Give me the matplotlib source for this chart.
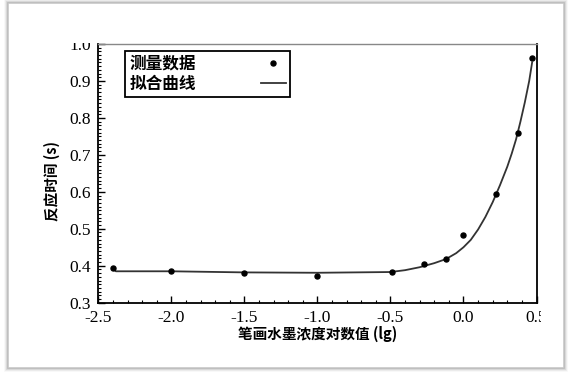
import numpy as np
import matplotlib
matplotlib.use("Agg")
import matplotlib.pyplot as plt
from matplotlib.patches import Rectangle
from matplotlib.ticker import MultipleLocator

# measured points (log value, reaction time in s)
x_meas = [-2.40, -2.00, -1.50, -1.00, -0.49, -0.27, -0.12, 0.00, 0.22, 0.37, 0.47]
y_meas = [0.393, 0.387, 0.380, 0.373, 0.382, 0.404, 0.419, 0.484, 0.595, 0.758, 0.961]

# fitted curve
x_fit = [-2.40, -2.38, -2.00, -1.50, -1.00, -0.50, -0.40, -0.30, -0.20, -0.12, -0.05,
         0.00, 0.05, 0.10, 0.15, 0.20, 0.25, 0.30, 0.33, 0.36, 0.39, 0.42, 0.45, 0.47]
y_fit = [0.393, 0.385, 0.385, 0.382, 0.381, 0.383, 0.388, 0.396, 0.407, 0.418, 0.434,
         0.450, 0.470, 0.498, 0.532, 0.572, 0.618, 0.668, 0.703, 0.742, 0.790, 0.842, 0.900, 0.950]

x_ticks = [-2.5, -2.0, -1.5, -1.0, -0.5, 0.0, 0.5]
y_ticks = [0.3, 0.4, 0.5, 0.6, 0.7, 0.8, 0.9, 1.0]

labels = ["测量数据", "拟合曲线"]
xlabel = "笔画水墨浓度对数值 (lg)"
ylabel = "反应时间 (s)"

W, H = 572, 376
cjk = ["Noto Sans CJK SC", "DejaVu Sans"]
serif = ["Liberation Serif", "DejaVu Serif"]

fig = plt.figure(figsize=(W / 100, H / 100), dpi=100)
ax = fig.add_axes([98.3 / W, 1 - 302.7 / H, (536.5 - 98.3) / W, (302.7 - 44) / H])

ax.plot(x_fit, y_fit, color="#333333", lw=1.3, label=labels[1], zorder=2)
ax.plot(x_meas, y_meas, "o", color="black", ms=3.6, label=labels[0], zorder=3)

ax.set_xlim(-2.5, 0.5)
ax.set_ylim(0.3, 1.0)
ax.set_xticks(x_ticks)
ax.set_yticks(y_ticks)
ax.xaxis.set_minor_locator(MultipleLocator(0.1))
ax.yaxis.set_minor_locator(MultipleLocator(0.01))
ax.tick_params(which="major", direction="in", length=5, width=1, labelsize=12.5, pad=5)
ax.tick_params(which="minor", direction="in", length=2.5, width=0.8)
ax.set_xticklabels([f"{v:.1f}" for v in x_ticks], family=serif)
ax.set_yticklabels([f"{v:.1f}" for v in y_ticks], family=serif)

for s in ["left", "bottom", "right"]:
    ax.spines[s].set_linewidth(1.3)
ax.spines["top"].set_color("#888888")
ax.spines["top"].set_linestyle((0, (2, 1)))
ax.spines["top"].set_linewidth(1)

ax.set_xlabel(xlabel, family=cjk, fontsize=10.5, fontweight="bold", labelpad=0)
ax.set_ylabel(ylabel, family=cjk, fontsize=10.5, fontweight="bold")
ax.yaxis.set_label_coords(-0.087, 0.47)

h, l = ax.get_legend_handles_labels()
leg = ax.legend(h[::-1], l[::-1], loc="upper left", bbox_to_anchor=(0.061, 0.974),
                borderaxespad=0, markerfirst=False, handletextpad=3.9,
                handlelength=1.5, fancybox=False, framealpha=1, edgecolor="black",
                prop={"family": cjk, "size": 12, "weight": "bold"},
                borderpad=0.25, labelspacing=0.1)
leg.get_frame().set_linewidth(1.3)

# the scan is cut at the top and on the right
fig.add_artist(Rectangle((10 / W, 1 - 43.3 / H), 550 / W, 33 / H, transform=fig.transFigure,
                         facecolor="white", edgecolor="none", zorder=5))
fig.add_artist(Rectangle((541 / W, 1 - 360 / H), 20 / W, 55 / H, transform=fig.transFigure,
                         facecolor="white", edgecolor="none", zorder=5))

# framed picture with a soft shadow
for i, a in enumerate([0.5, 0.3, 0.15, 0.07]):
    fig.add_artist(Rectangle(((8 - i) / W, 1 - (368 + i) / H), (556 + 2 * i) / W, (365 + 2 * i) / H,
                             transform=fig.transFigure, fill=False, edgecolor="#909090",
                             alpha=a, lw=1.2, zorder=6))

fig.savefig("out.png", dpi=100)
